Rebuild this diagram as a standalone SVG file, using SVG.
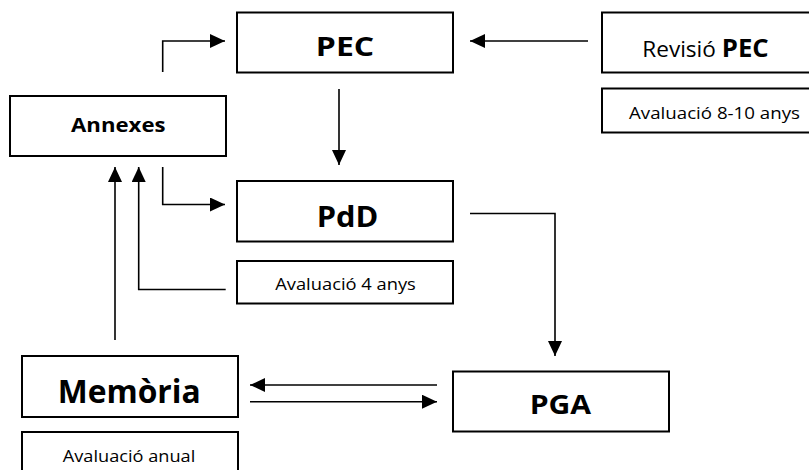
<svg xmlns="http://www.w3.org/2000/svg" width="809" height="470" viewBox="0 0 809 470">
<defs>
<style>
.box{fill:#fff;stroke:#000;stroke-width:2}
.con{fill:none;stroke:#000;stroke-width:1.6}
.b{font-family:"Open Sans","Liberation Sans",sans-serif;font-weight:bold;fill:#000;text-anchor:middle}
.r{font-family:"Open Sans","Liberation Sans",sans-serif;font-weight:normal;fill:#000;text-anchor:middle}
</style>
<marker id="ah" markerUnits="userSpaceOnUse" markerWidth="15" markerHeight="14" refX="15" refY="7" orient="auto">
<path d="M0,0 L15,7 L0,14 Z" fill="#000"/>
</marker>
</defs>
<rect width="809" height="470" fill="#fff"/>
<g id="pec">
<rect class="box" x="237" y="12.5" width="216" height="60"/>
<text class="b" transform="translate(345,55.7) scale(1.2,1)" font-size="26.6">PEC</text>
</g>
<g id="revisio">
<rect class="box" x="602" y="12.5" width="212" height="60"/>
<text transform="translate(705.5,57) scale(1.05,1)" text-anchor="middle" font-family="Open Sans, Liberation Sans, sans-serif" fill="#000"><tspan font-size="21.5">Revisió </tspan><tspan font-size="24.5" font-weight="bold">PEC</tspan></text>
</g>
<g id="aval810">
<rect class="box" x="602" y="88.5" width="212" height="44"/>
<text class="r" transform="translate(714.5,119.3) scale(1.1,1)" font-size="17">Avaluació 8-10 anys</text>
</g>
<g id="annexes">
<rect class="box" x="10" y="96" width="216" height="60"/>
<text class="b" transform="translate(118.3,131.7) scale(1.12,1)" font-size="19.8">Annexes</text>
</g>
<g id="pdd">
<rect class="box" x="237" y="181" width="216" height="60.5"/>
<text class="b" transform="translate(347.5,226.7) scale(1.1,1)" font-size="28">PdD</text>
</g>
<g id="aval4">
<rect class="box" x="237" y="261" width="216" height="42.5"/>
<text class="r" transform="translate(345.5,290.3) scale(1.11,1)" font-size="16.5">Avaluació 4 anys</text>
</g>
<g id="memoria">
<rect class="box" x="22" y="356" width="216" height="61"/>
<text class="b" transform="translate(129.2,402.7)" font-size="31.8">Memòria</text>
</g>
<g id="avalanual">
<rect class="box" x="22" y="432" width="216" height="50"/>
<text class="r" transform="translate(129,461.5) scale(1.07,1)" font-size="17">Avaluació anual</text>
</g>
<g id="pga">
<rect class="box" x="453" y="371.5" width="216" height="60"/>
<text class="b" transform="translate(560.4,414.3) scale(1.15,1)" font-size="26.2">PGA</text>
</g>
<g id="connectors">
<path class="con" d="M162.7,72 V41 H225" marker-end="url(#ah)"/>
<path class="con" d="M162.7,167 V204.5 H225" marker-end="url(#ah)"/>
<path class="con" d="M588,41 H470" marker-end="url(#ah)"/>
<path class="con" d="M339,89 V165" marker-end="url(#ah)"/>
<path class="con" d="M470,213.5 H555 V356" marker-end="url(#ah)"/>
<path class="con" d="M115,340 V167" marker-end="url(#ah)"/>
<path class="con" d="M225.7,289.5 H138.7 V167" marker-end="url(#ah)"/>
<path class="con" d="M437,385 H250" marker-end="url(#ah)"/>
<path class="con" d="M250,401.7 H437" marker-end="url(#ah)"/>
</g>
</svg>
